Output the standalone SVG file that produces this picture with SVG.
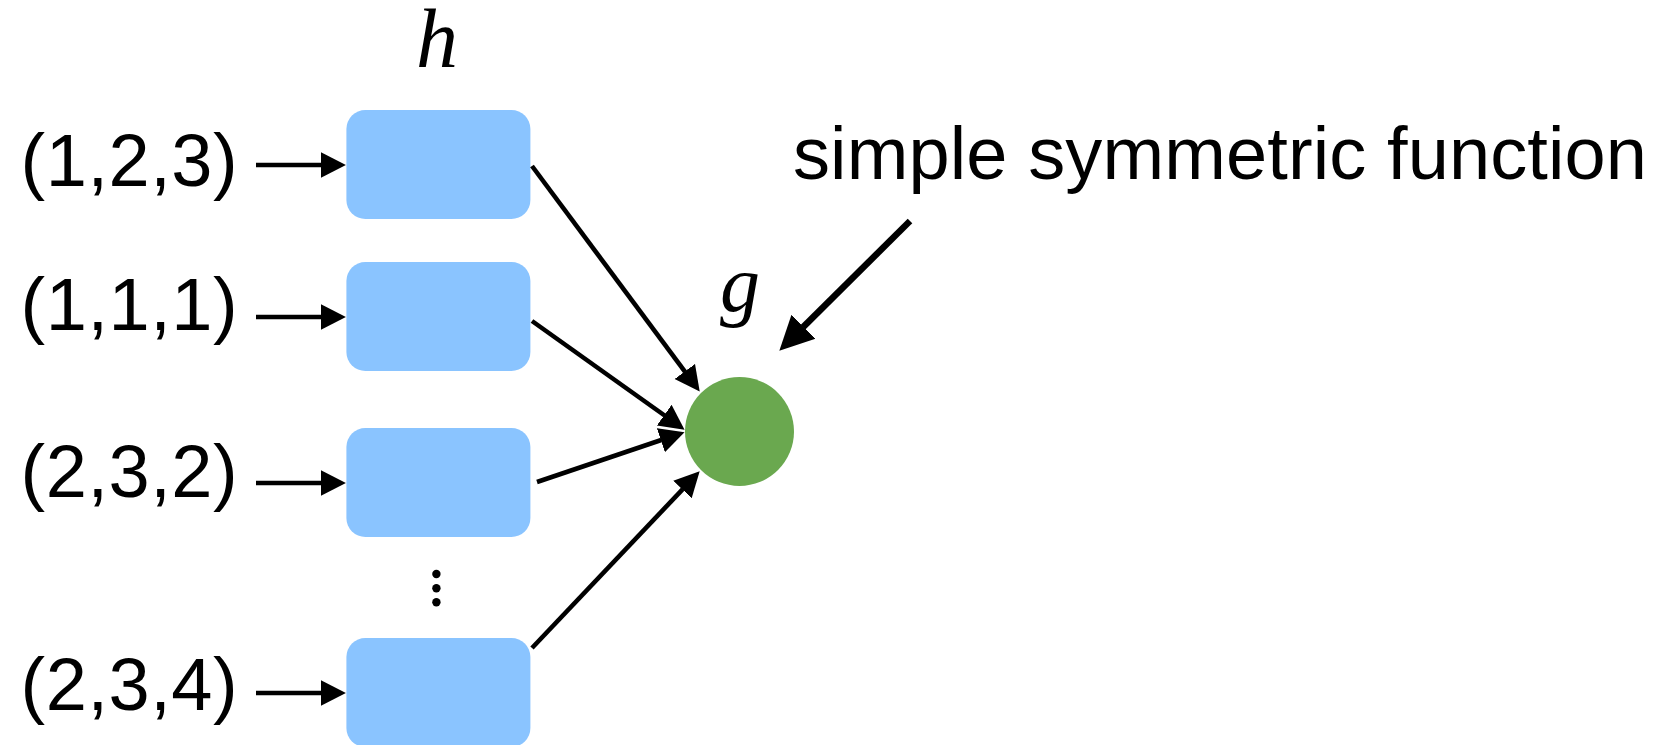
<svg xmlns="http://www.w3.org/2000/svg" width="1658" height="745" viewBox="0 0 1658 745">
  <style>
    .label { font-family: "Liberation Sans", Arial, sans-serif; font-size: 74px; fill: #000; }
    .math { font-family: "Liberation Serif", "Times New Roman", serif; font-style: italic; fill: #000; }
    .box { fill: #8AC4FF; }
    .edge { stroke: #000; stroke-width: 4.6; fill: none; marker-end: url(#head); }
    .edge-bold { stroke: #000; stroke-width: 6.5; fill: none; marker-end: url(#head-big); }
  </style>
  <defs>
    <marker id="head" markerUnits="userSpaceOnUse" markerWidth="27" markerHeight="28" viewBox="0 -14 27 28" refX="0.5" refY="0" orient="auto">
      <path d="M0,-12.7 L25,0 L0,12.7 Z" fill="#000"/>
    </marker>
    <marker id="head-big" markerUnits="userSpaceOnUse" markerWidth="36" markerHeight="36" viewBox="0 -18 36 36" refX="0.5" refY="0" orient="auto">
      <path d="M0,-17 L34,0 L0,17 Z" fill="#000"/>
    </marker>
  </defs>

  <rect width="1658" height="745" fill="#fff"/>

  <!-- input tuples -->
  <g id="in1"><text class="label" x="20.6" y="186" textLength="217" lengthAdjust="spacing">(1,2,3)</text></g>
  <g id="in2"><text class="label" x="20.6" y="330" textLength="217" lengthAdjust="spacing">(1,1,1)</text></g>
  <g id="in3"><text class="label" x="20.6" y="497" textLength="217" lengthAdjust="spacing">(2,3,2)</text></g>
  <g id="in4"><text class="label" x="20.6" y="710" textLength="217" lengthAdjust="spacing">(2,3,4)</text></g>

  <!-- per-element network h -->
  <g id="h-label"><text class="math" style="font-size:84px" x="416" y="67">h</text></g>
  <g id="h1"><rect class="box" x="346.4" y="110" width="184" height="109" rx="19"/></g>
  <g id="h2"><rect class="box" x="346.4" y="262" width="184" height="109" rx="19"/></g>
  <g id="h3"><rect class="box" x="346.4" y="428" width="184" height="109" rx="19"/></g>
  <g id="ellipsis">
    <circle cx="436.4" cy="574" r="4.2"/>
    <circle cx="436.4" cy="588.3" r="4.2"/>
    <circle cx="436.4" cy="602.3" r="4.2"/>
  </g>
  <g id="h4"><rect class="box" x="346.4" y="638" width="184" height="109" rx="19"/></g>

  <!-- aggregator g -->
  <g id="g-label"><text class="math" style="font-size:80px" x="720" y="311">g</text></g>
  <g id="g-node"><circle cx="739.5" cy="431.5" r="54.5" fill="#6AA84F"/></g>

  <!-- annotation -->
  <g id="note"><text class="label" x="793" y="179" textLength="854" lengthAdjust="spacing">simple symmetric function</text></g>

  <g id="connectors">
    <line class="edge" x1="256" y1="165" x2="321.4" y2="165"/>
    <line class="edge" x1="256" y1="317" x2="321.4" y2="317"/>
    <line class="edge" x1="256" y1="483" x2="321.4" y2="483"/>
    <line class="edge" x1="256" y1="693" x2="321.4" y2="693"/>
    <line class="edge" x1="532" y1="166" x2="685.1" y2="371.9"/>
    <line class="edge" x1="532" y1="321" x2="664.6" y2="415.5"/>
    <line class="edge" x1="537" y1="482" x2="661.3" y2="440.0"/>
    <line class="edge" x1="532" y1="648" x2="682.8" y2="489.1"/>
    <line class="edge-bold" x1="910" y1="221" x2="803.1" y2="327.1"/>
  </g>
</svg>
